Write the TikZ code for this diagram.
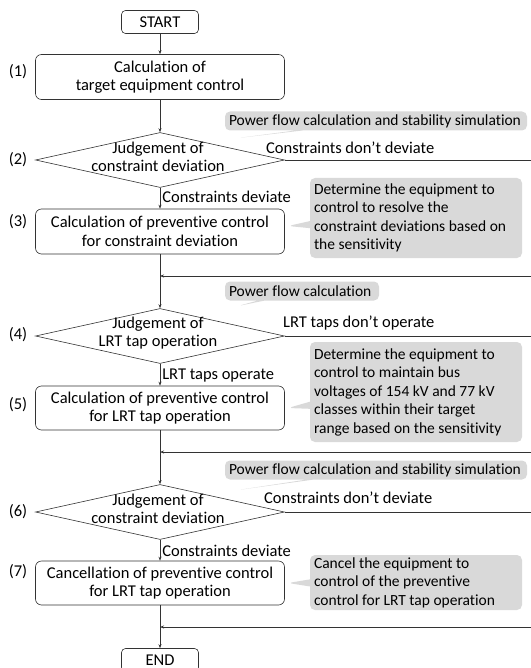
\documentclass[tikz,border=0pt]{standalone}
\usepackage{fontspec}
\setmainfont{Carlito}[Ligatures=NoCommon]
\usetikzlibrary{shapes.geometric,shapes.callouts,arrows.meta}

\begin{document}
\begin{tikzpicture}[x=1pt,y=-1pt,
  font=\fontsize{16.5}{18.5}\selectfont,
  line/.style={draw=black!80, line width=0.6pt},
  arr/.style={line, -{Stealth[length=4pt,width=3pt]}},
  term/.style={line, rounded corners=4pt, minimum width=77pt, minimum height=23pt, inner sep=0pt},
  proc/.style={line, rounded corners=6pt, minimum width=249pt, minimum height=45pt, inner sep=0pt, align=center},
  decision/.style={line, diamond, minimum width=249pt, minimum height=55pt, inner sep=0pt},
  dtext/.style={align=center, inner sep=0pt},
  num/.style={inner sep=0pt},
  lbl/.style={inner sep=2pt},
  note/.style={rectangle callout, fill=black!15, rounded corners=5pt, inner xsep=4pt, inner ysep=0pt,
    text width=#1, align=flush left, font=\fontsize{15.5}{18.5}\selectfont},
  note/.default=204pt]
  \useasboundingbox (0,0) rectangle (530,668);

  % main column
  \node[term] (start) at (160,22) {START};
  \node[proc] (b1) at (160,77) {Calculation of\\target equipment control};
  \node[decision] (d2) at (160,160) {};
  \node[dtext] (d2t) at (158,157) {Judgement of\\constraint deviation};
  \node[proc] (b3) at (160,231.5) {Calculation of preventive control\\for constraint deviation};
  \node[decision] (d4) at (160,336) {};
  \node[dtext] (d4t) at (158,333) {Judgement of\\LRT tap operation};
  \node[proc, minimum height=44pt] (b5) at (160,408) {Calculation of preventive control\\for LRT tap operation};
  \node[decision] (d6) at (160,512) {};
  \node[dtext] (d6t) at (158,509) {Judgement of\\constraint deviation};
  \node[proc, minimum height=44pt] (b7) at (160,583) {Cancellation of preventive control\\for LRT tap operation};
  \node[term] (end) at (160,660) {END};

  % step numbers
  \node[num] (n1) at (18,72) {(1)};
  \node[num] (n2) at (18,160) {(2)};
  \node[num] (n3) at (18,222) {(3)};
  \node[num] (n4) at (18,335) {(4)};
  \node[num] (n5) at (18,405) {(5)};
  \node[num] (n6) at (18,512) {(6)};
  \node[num] (n7) at (18,572) {(7)};

  % merge points and loops off the right edge
  \coordinate (m4) at (160,276);
  \coordinate (m6) at (160,452);
  \coordinate (m8) at (160,627);
  \coordinate (r2) at (545,160);
  \coordinate (r4) at (545,276);
  \coordinate (r5) at (545,336);
  \coordinate (r6) at (545,452);
  \coordinate (r7) at (545,512);
  \coordinate (r8) at (545,627);

  \draw[arr] (start) -- (b1);
  \draw[arr] (b1) -- (d2);
  \draw[arr] (d2) -- node[lbl, right, pos=0.45] {Constraints deviate} (b3);
  \draw[line] (b3) -- (m4);
  \draw[arr] (m4) -- (d4);
  \draw[arr] (d4) -- node[lbl, right, pos=0.55] {LRT taps operate} (b5);
  \draw[line] (b5) -- (m6);
  \draw[arr] (m6) -- (d6);
  \draw[arr] (d6) -- node[lbl, right, pos=0.55] {Constraints deviate} (b7);
  \draw[line] (b7) -- (m8);
  \draw[arr] (m8) -- (end);

  \draw[line] (d2.east) -- (r2) -- (r4);
  \draw[arr] (r4) -- (m4);
  \draw[line] (d4.east) -- (r5) -- (r6);
  \draw[arr] (r6) -- (m6);
  \draw[line] (d6.east) -- (r7) -- (r8);
  \draw[arr] (r8) -- (m8);

  \node[lbl, anchor=west] (t2) at (264,148) {Constraints don't deviate};
  \node[lbl, anchor=west] (t4) at (281,323) {LRT taps don't operate};
  \node[lbl, anchor=west] (t6) at (262,498) {Constraints don't deviate};

  % notes
  \node[note=294pt, minimum height=19pt, callout absolute pointer={(238,138)}] (c2) at (376,121) {Power flow calculation and stability simulation};
  \node[note, minimum height=80pt, callout absolute pointer={(288,226)}] (c3) at (416,218) {Determine the equipment to\\control to resolve the\\constraint deviations based on\\the sensitivity};
  \node[note=146pt, minimum height=19pt, callout absolute pointer={(238,306)}] (c4) at (302,291) {Power flow calculation};
  \node[note, minimum height=100pt, callout absolute pointer={(288,408)}] (c5) at (416,392) {Determine the equipment to\\control to maintain bus\\voltages of 154 kV and 77 kV\\classes within their target\\range based on the sensitivity};
  \node[note=294pt, minimum height=19pt, callout absolute pointer={(238,490)}] (c6) at (376,470) {Power flow calculation and stability simulation};
  \node[note, minimum height=55pt, callout absolute pointer={(288,583)}] (c7) at (416,582.5) {Cancel the equipment to\\control of the preventive\\control for LRT tap operation};
\end{tikzpicture}
\end{document}
